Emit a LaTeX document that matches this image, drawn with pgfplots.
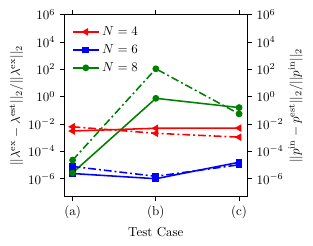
\documentclass[border=0pt]{standalone}
\usepackage{pgfplots}
\pgfplotsset{compat=1.18}
\tikzset{dd/.style={dash pattern=on 6pt off 2.3pt on 1.5pt off 2.3pt}}
\pgfplotsset{legend image code/.code={%
  \draw[mark repeat=2,mark phase=2] plot coordinates {(0cm,0cm) (0.35cm,0cm) (0.7cm,0cm)};}}
\begin{document}
\begin{tikzpicture}
\begin{semilogyaxis}[name=a,
  scale only axis, width=141pt, height=140pt,
  ymin=5e-8, ymax=1e6, xmin=-0.1, xmax=2.1,
  ytick={1e-6,1e-4,1e-2,1,1e2,1e4,1e6},
  yminorticks=false, tick align=outside,
  tick style={black, line width=0.6pt}, major tick length=3.5pt,
  axis line style={line width=0.8pt},
  axis y line*=left,
  xtick={0,1,2}, xticklabels={(a),(b),(c)},
  xlabel={Test Case},
  ylabel={$||\lambda^{\mathrm{ex}}-\lambda^{\mathrm{est}}||_2/||\lambda^{\mathrm{ex}}||_2$},
  ylabel shift=-3pt,
  legend style={at={(0.02,0.965)}, anchor=north west, draw=none, fill=none, row sep=1.5pt},
  legend cell align=left,
]
\addplot[red, line width=1.2pt, mark size=2.2pt, mark=triangle*, mark options={rotate=90}] coordinates {(0,3.1e-3) (1,4.9e-3) (2,5.1e-3)};
\addlegendentry{$N=4$}
\addplot[blue, line width=1.2pt, mark size=2pt, mark=square*] coordinates {(0,2.4e-6) (1,1.0e-6) (2,1.6e-5)};
\addlegendentry{$N=6$}
\addplot[green!50!black, line width=1.2pt, mark size=2pt, mark=*] coordinates {(0,2.7e-6) (1,0.76) (2,0.16)};
\addlegendentry{$N=8$}
\end{semilogyaxis}
\begin{semilogyaxis}[
  scale only axis, width=141pt, height=140pt,
  ymin=5e-8, ymax=1e6, xmin=-0.1, xmax=2.1,
  ytick={1e-6,1e-4,1e-2,1,1e2,1e4,1e6},
  yminorticks=false, tick align=outside,
  tick style={black, line width=0.6pt}, major tick length=3.5pt,
  axis line style={line width=0.8pt},
  axis y line*=right, axis x line=none,
  ylabel={$||p^{\mathrm{in}}-p^{\mathrm{est}}||_2/||p^{\mathrm{in}}||_2$},
  ylabel shift=-3pt,
]
\addplot[red, dd, line width=1.2pt, mark size=2.2pt, mark=triangle*, mark options={rotate=90, solid}] coordinates {(0,6.3e-3) (1,2.1e-3) (2,1.1e-3)};
\addplot[blue, dd, line width=1.2pt, mark size=2pt, mark=square*, mark options={solid}] coordinates {(0,7.9e-6) (1,1.5e-6) (2,1.05e-5)};
\addplot[green!50!black, dd, line width=1.2pt, mark size=2pt, mark=*, mark options={solid}] coordinates {(0,2.3e-5) (1,110) (2,0.055)};
\end{semilogyaxis}
\pgfresetboundingbox
\path ([xshift=-49.5pt, yshift=-37.5pt]a.south west) rectangle ([xshift=50.5pt, yshift=11.3pt]a.north east);
\end{tikzpicture}
\end{document}
